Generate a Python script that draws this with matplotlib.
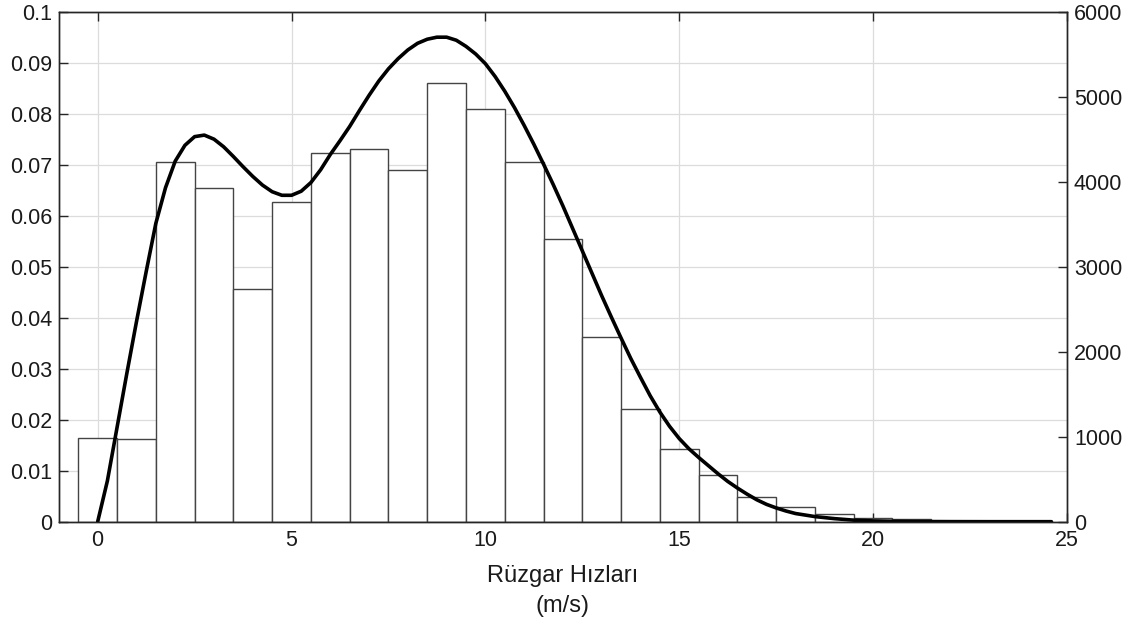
import matplotlib
matplotlib.use("Agg")
import matplotlib.pyplot as plt
import numpy as np

plt.rcParams['font.family'] = ['Liberation Sans', 'DejaVu Sans']

# Histogram (relative frequency), bins centred on integer wind speeds
bin_centers = list(range(0, 25))
bin_heights = [0.0165, 0.0163, 0.0705, 0.0655, 0.0457, 0.0626, 0.0722, 0.0731,
               0.0690, 0.0860, 0.0809, 0.0706, 0.0554, 0.0362, 0.0220, 0.0142,
               0.0092, 0.0048, 0.0028, 0.0016, 0.0008, 0.0005, 0.0002, 0.0001,
               0.00005]

# Fitted density curve
curve_x = [0.0, 0.25, 0.5, 0.75, 1.0, 1.25, 1.5, 1.75, 2.0, 2.25, 2.5, 2.75,
           3.0, 3.25, 3.5, 3.75, 4.0, 4.25, 4.5, 4.75, 5.0, 5.25, 5.5, 5.75,
           6.0, 6.25, 6.5, 6.75, 7.0, 7.25, 7.5, 7.75, 8.0, 8.25, 8.5, 8.75,
           9.0, 9.25, 9.5, 9.75, 10.0, 10.25, 10.5, 10.75, 11.0, 11.25, 11.5,
           11.75, 12.0, 12.25, 12.5, 12.75, 13.0, 13.25, 13.5, 13.75, 14.0,
           14.25, 14.5, 14.75, 15.0, 15.25, 15.5, 15.75, 16.0, 16.25, 16.5,
           16.75, 17.0, 17.25, 17.5, 17.75, 18.0, 18.25, 18.5, 19.0, 19.5,
           20.0, 20.5, 21.0, 22.0, 23.0, 24.6]
curve_y = [0.0000, 0.0080, 0.0185, 0.0290, 0.0392, 0.0490, 0.0585, 0.0655,
           0.0707, 0.0738, 0.0755, 0.0758, 0.0750, 0.0735, 0.0716, 0.0696,
           0.0677, 0.0660, 0.0647, 0.0640, 0.0640, 0.0648, 0.0665, 0.0690,
           0.0720, 0.0747, 0.0775, 0.0806, 0.0836, 0.0864, 0.0888, 0.0908,
           0.0925, 0.0938, 0.0946, 0.0950, 0.0950, 0.0944, 0.0932, 0.0917,
           0.0898, 0.0873, 0.0844, 0.0812, 0.0777, 0.0740, 0.0701, 0.0661,
           0.0619, 0.0575, 0.0531, 0.0487, 0.0443, 0.0401, 0.0360, 0.0320,
           0.0283, 0.0247, 0.0215, 0.0187, 0.0163, 0.0143, 0.0126, 0.0110,
           0.0094, 0.0079, 0.0066, 0.0054, 0.0043, 0.0034, 0.0027, 0.0021,
           0.0016, 0.0013, 0.0010, 0.0006, 0.0003, 0.00015, 0.00008, 0.00004,
           0.00001, 0.0, 0.0]

x_ticks = [0, 5, 10, 15, 20, 25]
y_left_ticks = [0, 0.01, 0.02, 0.03, 0.04, 0.05, 0.06, 0.07, 0.08, 0.09, 0.1]
y_left_labels = ['0', '0.01', '0.02', '0.03', '0.04', '0.05', '0.06', '0.07',
                 '0.08', '0.09', '0.1']
y_right_ticks = [0, 1000, 2000, 3000, 4000, 5000, 6000]
x_label = "Rüzgar Hızları\n(m/s)"

fig = plt.figure(figsize=(11.33, 6.25), dpi=100)
ax = fig.add_axes([0.052, 0.1653, 0.8897, 0.816])

axis_col = '#262626'
ax.bar(bin_centers, bin_heights, width=1.0, align='center', facecolor='white',
       edgecolor='#444444', linewidth=1.0, zorder=2)
ax.plot(curve_x, curve_y, color='black', linewidth=2.6, zorder=3,
        solid_capstyle='round', solid_joinstyle='round')

ax.set_xlim(-1, 25)
ax.set_ylim(0, 0.1)
ax.set_xticks(x_ticks)
ax.set_yticks(y_left_ticks)
ax.set_yticklabels(y_left_labels)
ax.grid(True, color='#dcdcdc', linewidth=0.9, zorder=0)
ax.set_axisbelow(True)
ax.tick_params(axis='both', direction='in', length=6.5, width=1, colors=axis_col,
               labelsize=15.5, top=True, labelcolor='#1a1a1a')
ax.tick_params(axis='x', pad=6)
ax.tick_params(axis='y', pad=5)
for s in ax.spines.values():
    s.set_color(axis_col)
    s.set_linewidth(1.0)

ax.set_xlabel(x_label, fontsize=17, color='#1a1a1a', linespacing=1.5)
ax.xaxis.set_label_coords(0.5, -0.084)
ax.xaxis.label.set_va('top')

ax2 = ax.twinx()
ax2.set_ylim(0, 6000)
ax2.set_yticks(y_right_ticks)
ax2.tick_params(axis='y', direction='in', length=6.5, width=1, colors=axis_col,
                labelsize=15.5, pad=5, labelcolor='#1a1a1a')
for s in ax2.spines.values():
    s.set_color(axis_col)
    s.set_linewidth(1.0)

fig.savefig('out.png', dpi=100, facecolor='white')
